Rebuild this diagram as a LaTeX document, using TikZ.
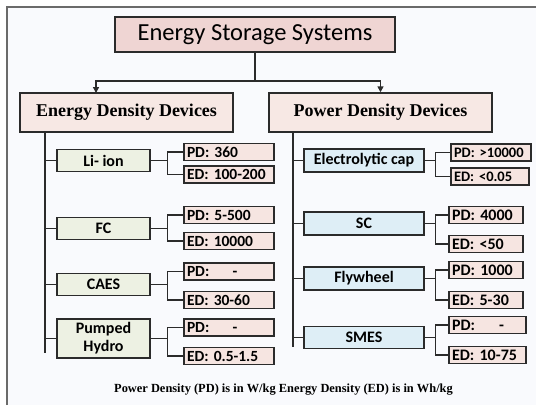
\documentclass[tikz,border=0pt]{standalone}
\usepackage{fontspec}
\setmainfont{Liberation Serif}
\setsansfont{Carlito}
\usetikzlibrary{arrows.meta, positioning, calc}
\definecolor{boxline}{HTML}{2B2B2B}
\definecolor{titlepink}{HTML}{EFD5D3}
\definecolor{grouppink}{HTML}{F7E8E4}
\definecolor{leafpink}{HTML}{F6E5E1}
\definecolor{devgreen}{HTML}{EDF1E3}
\definecolor{devblue}{HTML}{DEEEF6}
\definecolor{framegray}{HTML}{6A6A6A}
\definecolor{paper}{HTML}{F9FAFD}

\begin{document}
\begin{tikzpicture}[
    x=1pt, y=-1pt,
    every node/.style={inner sep=0pt},
    box/.style={draw=boxline, line width=1.4pt, align=center},
    topbox/.style={box, fill=titlepink, font=\sffamily\fontsize{24.5}{26}\selectfont, minimum width=280pt, minimum height=35pt},
    group/.style={box, fill=grouppink, font=\bfseries\fontsize{18}{20}\selectfont, minimum height=39pt},
    edev/.style={box, fill=devgreen, font=\sffamily\bfseries\fontsize{16}{18}\selectfont, minimum width=93pt, minimum height=22pt},
    pdev/.style={box, fill=devblue, font=\sffamily\bfseries\fontsize{16}{18}\selectfont, minimum width=120pt, minimum height=23pt},
    leaf/.style={box, fill=leafpink, font=\sffamily\bfseries\fontsize{15.5}{16}\selectfont, align=left, inner xsep=3pt, text width=#1, minimum height=17pt},
    leaf/.default=84pt,
    line/.style={draw=boxline, line width=1.4pt},
    arrow/.style={line, -{Triangle[length=6pt, width=6pt]}},
    note/.style={font=\bfseries\fontsize{12.4}{14}\selectfont}
]
    % page and frame
    \useasboundingbox[fill=white] (0,0) rectangle (536,405);
    \fill[paper] (7,7) rectangle (536,405);
    \draw[framegray, line width=1.5pt] (7,405) |- (536,7);

    \node[topbox] (ess) at (255,34.5) {Energy Storage Systems};
    \node[group, minimum width=213pt] (edd) at (126.5,112.5) {Energy Density Devices};
    \node[group, minimum width=223pt] (pdd) at (380.5,112.5) {Power Density Devices};

    \coordinate (split) at (255,81);
    \coordinate (eddin) at (96,93);
    \draw[line] (ess.south) -- (split);
    \draw[arrow] (split) -| (eddin);
    \draw[arrow] (split) -| (pdd.north);

    % energy density side
    \node[edev] (liion) at (103.5,160.5) {Li- ion};
    \node[edev] (fc) at (103.5,228.5) {FC};
    \node[edev] (caes) at (103.5,284.5) {CAES};
    \node[edev, minimum height=39pt] (hydro) at (103.5,338.5) {Pumped\\Hydro};

    \node[leaf] (liionpd) at (229,152) {PD: 360};
    \node[leaf] (liioned) at (229,174.5) {ED: 100-200};
    \node[leaf] (fcpd) at (229,215) {PD: 5-500};
    \node[leaf] (fced) at (229,241) {ED: 10000};
    \node[leaf] (caespd) at (229,271.5) {PD:\hspace{1.5em}-};
    \node[leaf] (caesed) at (229,300) {ED: 30-60};
    \node[leaf] (hydropd) at (229,327.5) {PD:\hspace{1.5em}-};
    \node[leaf] (hydroed) at (229,356) {ED: 0.5-1.5};

    \coordinate (ltrunk) at (45,353);
    \draw[line] (edd.south -| ltrunk) -- (ltrunk);
    \draw[line] (liion.west) -- (liion.west -| ltrunk);
    \draw[line] (fc.west) -- (fc.west -| ltrunk);
    \draw[line] (caes.west) -- (caes.west -| ltrunk);
    \draw[line] (hydro.west) -- (hydro.west -| ltrunk);

    \draw[line] (liion.east) -- ++(17,0) coordinate (liionfork);
    \draw[line] (liionpd.west) -| (liionfork) |- (liioned.west);
    \draw[line] (fc.east) -- ++(17,0) coordinate (fcfork);
    \draw[line] (fcpd.west) -| (fcfork) |- (fced.west);
    \draw[line] (caes.east) -- ++(17,0) coordinate (caesfork);
    \draw[line] (caespd.west) -| (caesfork) |- (caesed.west);
    \draw[line] (hydro.east) -- ++(17,0) coordinate (hydrofork);
    \draw[line] (hydropd.west) -| (hydrofork) |- (hydroed.west);

    % power density side
    \node[pdev] (ecap) at (364,160.5) {Electrolytic cap};
    \node[pdev] (sc) at (364,223.5) {SC};
    \node[pdev] (fly) at (364,278.5) {Flywheel};
    \node[pdev, minimum height=22pt] (smes) at (364,337.5) {SMES};

    \node[leaf=74pt, font=\sffamily\bfseries\fontsize{14.5}{15}\selectfont] (ecappd) at (491,152.5) {PD: >10000};
    \node[leaf=72pt, font=\sffamily\bfseries\fontsize{14.5}{15}\selectfont] (ecaped) at (490,176.5) {ED: <0.05};
    \node[leaf=68pt, font=\sffamily\bfseries\fontsize{16}{16}\selectfont] (scpd) at (486,215) {PD: 4000};
    \node[leaf=68pt, font=\sffamily\bfseries\fontsize{16}{16}\selectfont] (sced) at (486,244) {ED: <50};
    \node[leaf=68pt, font=\sffamily\bfseries\fontsize{16}{16}\selectfont] (flypd) at (486,270) {PD: 1000};
    \node[leaf=68pt, font=\sffamily\bfseries\fontsize{16}{16}\selectfont] (flyed) at (486,300) {ED: 5-30};
    \node[leaf=71pt, font=\sffamily\bfseries\fontsize{16}{16}\selectfont] (smespd) at (487.5,325) {PD:\hspace{1.5em}-};
    \node[leaf=71pt, font=\sffamily\bfseries\fontsize{16}{16}\selectfont] (smesed) at (487.5,355) {ED: 10-75};

    \coordinate (rtrunk) at (293,347);
    \draw[line] (pdd.south -| rtrunk) -- (rtrunk);
    \draw[line] (ecap.west) -- (ecap.west -| rtrunk);
    \draw[line] (sc.west) -- (sc.west -| rtrunk);
    \draw[line] (fly.west) -- (fly.west -| rtrunk);
    \draw[line] (smes.west) -- (smes.west -| rtrunk);

    \draw[line] (ecap.east) -- ++(11,0) coordinate (ecapfork);
    \draw[line] (ecappd.west) -| (ecapfork) |- (ecaped.west);
    \draw[line] (sc.east) -- ++(11,0) coordinate (scfork);
    \draw[line] (scpd.west) -| (scfork) |- (sced.west);
    \draw[line] (fly.east) -- ++(11,0) coordinate (flyfork);
    \draw[line] (flypd.west) -| (flyfork) |- (flyed.west);
    \draw[line] (smes.east) -- ++(11,0) coordinate (smesfork);
    \draw[line] (smespd.west) -| (smesfork) |- (smesed.west);

    \node[note] (units) at (283.5,390) {Power Density (PD) is in W/kg Energy Density (ED) is in Wh/kg};
\end{tikzpicture}
\end{document}
